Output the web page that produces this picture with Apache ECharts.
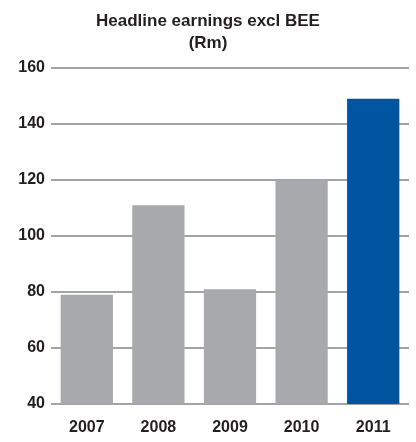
<!DOCTYPE html>
<html>
<head>
<meta charset="utf-8">
<script src="https://cdn.jsdelivr.net/npm/echarts@6/dist/echarts.min.js"></script>
<style>
  html, body { margin: 0; padding: 0; background: #fff; }
  #chart { width: 416px; height: 442px; }
</style>
</head>
<body>
<div id="chart"></div>
<script>
// Headline earnings excluding BEE, in Rand millions
const years = ['2007', '2008', '2009', '2010', '2011'];
const earnings = [79, 111, 81, 120, 149];
const yTicks = [40, 60, 80, 100, 120, 140, 160];

const GREY = '#a7a9ac';
const BLUE = '#0054a0';
const FONT = '"Liberation Sans", Arial, sans-serif';

const chart = echarts.init(document.getElementById('chart'));
chart.setOption({
  animation: false,
  title: {
    text: 'Headline earnings excl BEE\n(Rm)',
    left: 'center',
    top: 5,
    textStyle: {
      fontFamily: FONT,
      fontWeight: 'bold',
      fontSize: 17,
      lineHeight: 22,
      color: '#231f20'
    }
  },
  grid: { left: 51, right: 7, top: 68, bottom: 38 },
  xAxis: {
    type: 'category',
    data: years,
    axisLine: { show: false },
    axisTick: { show: false },
    axisLabel: {
      margin: 16,
      fontFamily: FONT,
      fontWeight: 'bold',
      fontSize: 16,
      color: '#231f20'
    }
  },
  yAxis: {
    type: 'value',
    min: yTicks[0],
    max: yTicks[yTicks.length - 1],
    interval: 20,
    axisLine: { show: false },
    axisTick: { show: false },
    axisLabel: {
      margin: 6,
      fontFamily: FONT,
      fontWeight: 'bold',
      fontSize: 16,
      color: '#231f20'
    },
    splitLine: { lineStyle: { color: '#858587', width: 1.6 } }
  },
  series: [{
    type: 'bar',
    data: earnings.map((v, i) => ({
      value: v,
      itemStyle: { color: i === earnings.length - 1 ? BLUE : GREY }
    })),
    barCategoryGap: '27%'
  }]
});
</script>
</body>
</html>
